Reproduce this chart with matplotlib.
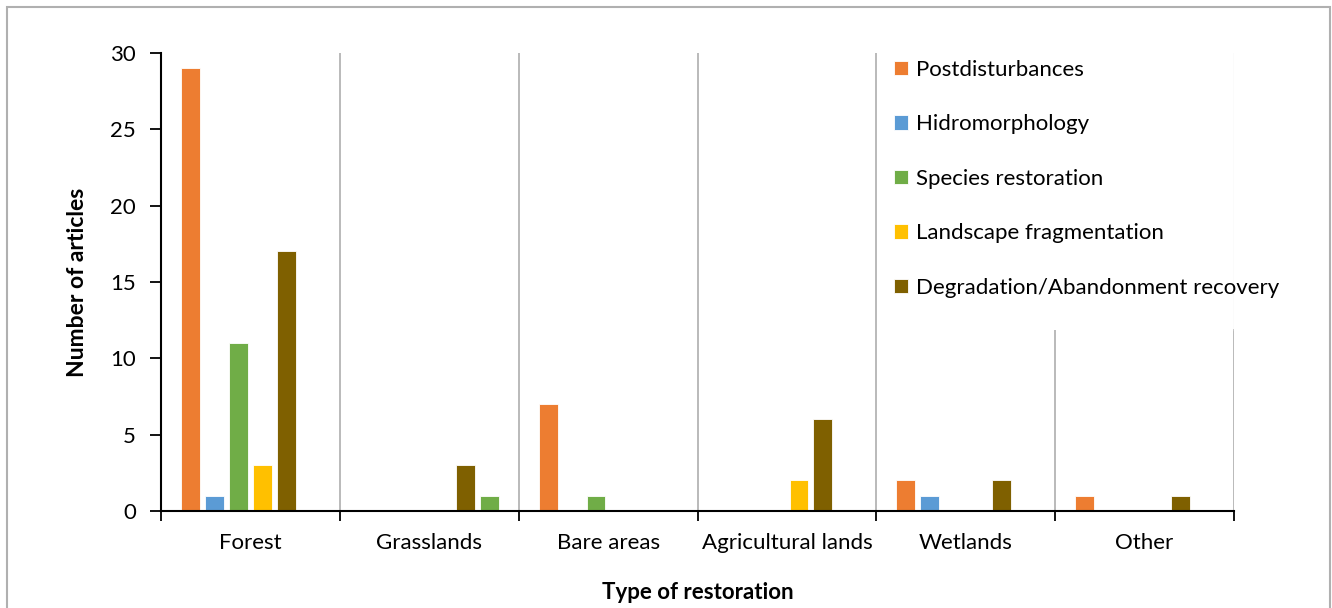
import numpy as np
import matplotlib
matplotlib.use("Agg")
import matplotlib.pyplot as plt
from matplotlib.patches import Rectangle

plt.rcParams["font.family"] = ["Lato", "DejaVu Sans"]

categories = ["Forest", "Grasslands", "Bare areas", "Agricultural lands", "Wetlands", "Other"]

# one list per restoration type, zeros where a category has no articles
postdisturbances = [29, 0, 7, 0, 2, 1]
hidromorphology = [1, 0, 0, 0, 1, 0]
species_restoration = [11, 0, 1, 0, 0, 0]
landscape_fragmentation = [3, 0, 0, 2, 0, 0]
degradation_recovery = [17, 3, 0, 6, 2, 1]
species_restoration_extra = [0, 1, 0, 0, 0, 0]

series = [
    ("Postdisturbances", postdisturbances, "#ED7D31"),
    ("Hidromorphology", hidromorphology, "#5B9BD5"),
    ("Species restoration", species_restoration, "#70AD47"),
    ("Landscape fragmentation", landscape_fragmentation, "#FFC000"),
    ("Degradation/Abandonment recovery", degradation_recovery, "#7F6000"),
    (None, species_restoration_extra, "#70AD47"),
]

fig = plt.figure(figsize=(13.32, 6.08), dpi=100)
ax = fig.add_axes([0.1209, 0.1595, 0.8055, 0.7533])

x = np.arange(len(categories))
slot = 0.134
width = 0.105
for k, (name, values, color) in enumerate(series):
    xs = x + 0.5 + (k - 2.5) * slot
    vals = np.array(values, dtype=float)
    mask = vals > 0
    ax.bar(xs[mask], vals[mask], width=width, color=color,
           edgecolor="white", linewidth=0.6, zorder=3,
           label=name if name else "_nolegend_")

ax.set_xlim(0, len(categories))
ax.set_ylim(0, 30)
ax.set_yticks(range(0, 31, 5))
ax.set_xticks(np.arange(len(categories) + 1))
ax.set_xticklabels([])
ax.set_xticks(x + 0.5, minor=True)
ax.set_xticklabels(categories, minor=True)
ax.tick_params(axis="x", which="minor", length=0, pad=16, labelsize=16)
ax.tick_params(axis="x", which="major", length=7, width=1.3, direction="out")
ax.tick_params(axis="y", length=8, width=1.3, direction="out", labelsize=16, pad=10)

for b in range(1, len(categories)):
    ax.axvline(b, color="#B4B4B4", linewidth=1.3, zorder=1)
# the last boundary line shows only faintly where the legend sits
ax.axvline(len(categories), color="#B4B4B4", linewidth=1.3, zorder=1,
           ymin=0, ymax=0.395)
ax.axvline(len(categories), color="#EBEBEB", linewidth=1.0, zorder=2.5,
           ymin=0.395, ymax=1)

for side in ["top", "right"]:
    ax.spines[side].set_visible(False)
ax.spines["left"].set_linewidth(1.5)
ax.spines["bottom"].set_linewidth(1.5)
ax.spines["bottom"].set_zorder(4)

ax.set_ylabel("Number of articles", fontsize=16.5, fontweight="bold", labelpad=16)
ax.set_xlabel("Type of restoration", fontsize=16, fontweight="bold", labelpad=21)

# white block behind the legend, hiding the gridline beneath it
ax.add_patch(Rectangle((4.01, 0.395), 1.98, 0.7,
                       transform=ax.get_xaxis_transform(), facecolor="white",
                       edgecolor="none", zorder=2, clip_on=False))

ax.legend(loc="upper left", bbox_to_anchor=(0.668, 1.02), frameon=False,
          fontsize=16, handlelength=0.63, handleheight=0.63,
          handletextpad=0.36, labelspacing=1.55, borderpad=0.72,
          borderaxespad=0)

# light grey frame around the whole figure
fig.patches.append(Rectangle((6.5 / 1332, -0.05), 1323 / 1332, 1.05 - 7 / 608,
                             transform=fig.transFigure, fill=False,
                             edgecolor="#B0B0B0", linewidth=1.5))

fig.savefig("out.png", dpi=100)
